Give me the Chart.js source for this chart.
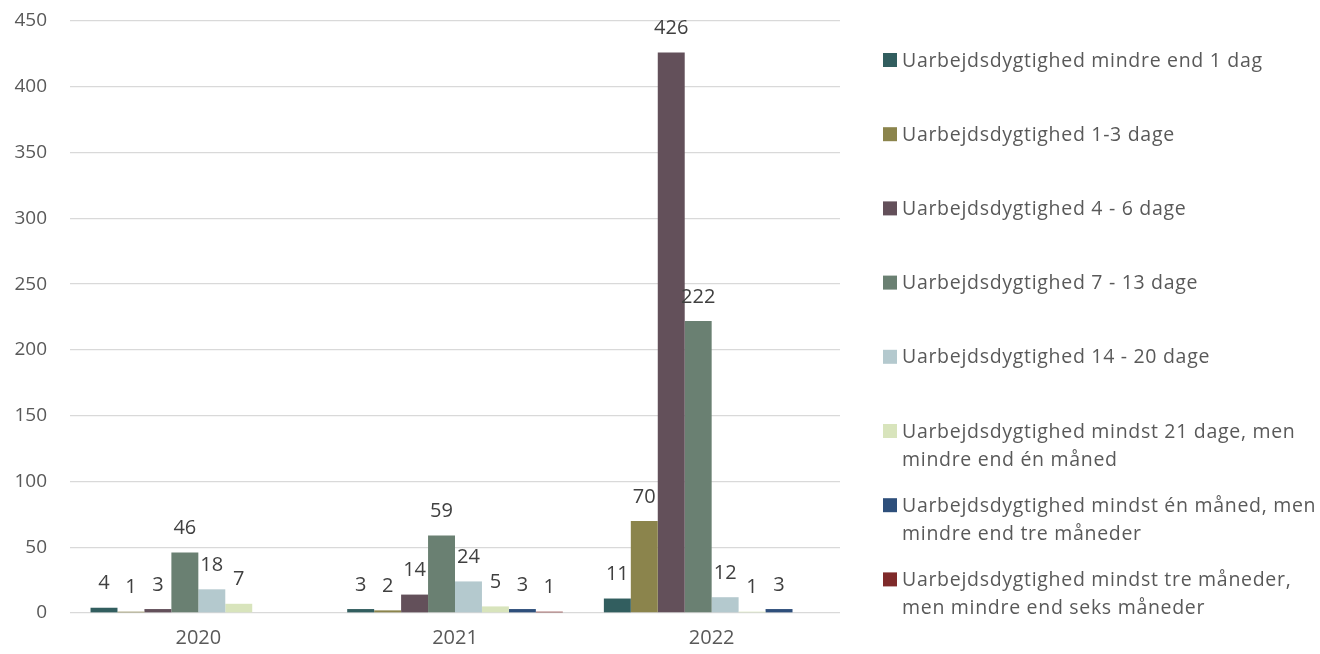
<!DOCTYPE html>
<html>
<head>
<meta charset="utf-8">
<script src="https://cdn.jsdelivr.net/npm/chart.js"></script>
<style>
  html, body { margin: 0; padding: 0; background: #fff; }
  #wrap { width: 1320px; height: 654px; position: relative; }
</style>
</head>
<body>
<div id="wrap"><canvas id="sickChart"></canvas></div>
<script>
// Years on the x axis
const years = ['2020', '2021', '2022'];

// Series names (multi-line ones split where they wrap)
const seriesNames = [
    ['Uarbejdsdygtighed mindre end 1 dag'],
    ['Uarbejdsdygtighed 1-3 dage'],
    ['Uarbejdsdygtighed 4 - 6 dage'],
    ['Uarbejdsdygtighed 7 - 13 dage'],
    ['Uarbejdsdygtighed 14 - 20 dage'],
    ['Uarbejdsdygtighed mindst 21 dage, men', 'mindre end én måned'],
    ['Uarbejdsdygtighed mindst én måned, men', 'mindre end tre måneder'],
    ['Uarbejdsdygtighed mindst tre måneder,', 'men mindre end seks måneder']
];

// Counts per series, one value per year (null = no cases)
const lessThan1Day = [4, 3, 11];
const days1to3 = [1, 2, 70];
const days4to6 = [3, 14, 426];
const days7to13 = [46, 59, 222];
const days14to20 = [18, 24, 12];
const min21Days = [7, 5, 1];
const min1Month = [null, 3, 3];
const min3Months = [null, 1, null];

const yTicks = [0, 50, 100, 150, 200, 250, 300, 350, 400, 450];

const seriesColors = ['#325e5f', '#8b844c', '#63505a', '#6a8072', '#b4c9ce', '#d8e4bc', '#2e4f7b', '#7f2a2a'];

const seriesValues = [lessThan1Day, days1to3, days4to6, days7to13, days14to20, min21Days, min1Month, min3Months];

const FONT = '"Open Sans", "Liberation Sans", sans-serif';

// Value labels above each bar
const barLabels = {
    id: 'barLabels',
    afterDatasetsDraw(chart) {
        const ctx = chart.ctx;
        ctx.save();
        ctx.font = '20px ' + FONT;
        ctx.fillStyle = '#404040';
        ctx.textAlign = 'center';
        ctx.textBaseline = 'middle';
        chart.data.datasets.forEach((ds, i) => {
            const meta = chart.getDatasetMeta(i);
            meta.data.forEach((bar, j) => {
                const v = ds.data[j];
                if (v === null || v === undefined) return;
                ctx.fillText(String(v), bar.x, bar.y - 24);
            });
        });
        ctx.restore();
    }
};

// Legend on the right, one fixed slot per series
const sideLegend = {
    id: 'sideLegend',
    afterDraw(chart) {
        const ctx = chart.ctx;
        const x0 = 883, firstY = 60, slot = 74.2, lineH = 28, box = 14;
        ctx.save();
        ctx.font = '19.5px ' + FONT;
        ctx.letterSpacing = '0.7px';
        ctx.textBaseline = 'middle';
        ctx.textAlign = 'left';
        seriesNames.forEach((lines, i) => {
            const y = firstY + i * slot;
            ctx.fillStyle = seriesColors[i];
            ctx.fillRect(x0, y - box / 2, box, box);
            ctx.fillStyle = '#595959';
            lines.forEach((t, k) => ctx.fillText(t, x0 + 19, y + k * lineH + 1));
        });
        ctx.restore();
    }
};

new Chart(document.getElementById('sickChart'), {
    type: 'bar',
    data: {
        labels: years,
        datasets: seriesValues.map((vals, i) => ({
            label: seriesNames[i].join(' '),
            data: vals,
            backgroundColor: seriesColors[i],
            borderWidth: 0,
            barPercentage: 1,
            categoryPercentage: 0.84
        }))
    },
    options: {
        responsive: true,
        maintainAspectRatio: false,
        animation: false,
        layout: { padding: { top: 21, right: 480, bottom: 0, left: 0 } },
        plugins: {
            legend: { display: false },
            tooltip: { enabled: false }
        },
        scales: {
            x: {
                grid: { display: false },
                border: { display: false },
                ticks: { color: '#595959', font: { family: FONT, size: 20 }, padding: 5 },
                afterFit(scale) { scale.height = 41; }
            },
            y: {
                min: 0,
                max: 450,
                afterBuildTicks(scale) { scale.ticks = yTicks.map(v => ({ value: v })); },
                grid: { color: '#d9d9d9', lineWidth: 1.3, drawTicks: false },
                border: { display: false },
                ticks: { color: '#595959', font: { family: FONT, size: 19 }, padding: 23 },
                afterFit(scale) {
                    scale.width = 70;
                    scale.paddingTop = 0;
                    scale.paddingBottom = 0;
                }
            }
        }
    },
    plugins: [barLabels, sideLegend]
});
</script>
</body>
</html>
